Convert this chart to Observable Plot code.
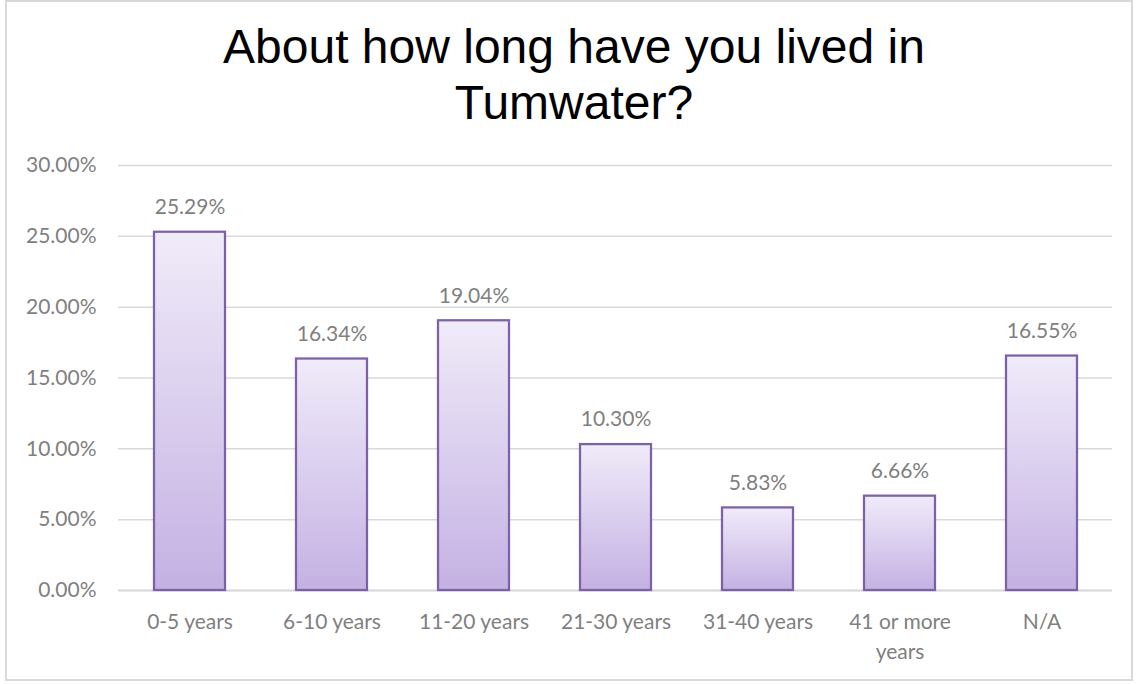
<!DOCTYPE html>
<html>
<head>
<meta charset="utf-8">
<script src="https://cdn.jsdelivr.net/npm/d3@7"></script>
<script src="https://cdn.jsdelivr.net/npm/@observablehq/plot@0.6"></script>
<style>
  html, body { margin: 0; padding: 0; background: #fff; overflow: hidden; }
  #wrap { position: relative; width: 1140px; height: 684px; }
  #frame { position: absolute; left: 5px; top: 0px; width: 1128px; height: 681px; box-sizing: border-box; border: 2px solid #d9d9d9; }
  #title { position: absolute; left: 8px; top: 19px; width: 1132px; text-align: center;
           font-family: "Liberation Sans", Arial, sans-serif; font-size: 48px; line-height: 56px; color: #000; }
  #chart { position: absolute; left: 0; top: 140px; }
</style>
</head>
<body>
<div id="wrap">
  <div id="frame"></div>
  <div id="title">About how long have you lived in<br>Tumwater?</div>
  <div id="chart"></div>
</div>
<script>
const categories = ["0-5 years", "6-10 years", "11-20 years", "21-30 years", "31-40 years", "41 or more years", "N/A"];
const values = [25.29, 16.34, 19.04, 10.30, 5.83, 6.66, 16.55];
const yTicks = [0, 5, 10, 15, 20, 25, 30];
const tickLabels = {"41 or more years": "41 or more\nyears"};

const data = categories.map((c, i) => ({cat: c, value: values[i]}));
const textColor = "#7f7f7f";
const font = "Lato, 'Open Sans', sans-serif";

const chart = Plot.plot({
  width: 1140,
  height: 544,
  marginLeft: 118,
  marginRight: 28,
  marginTop: 25,
  marginBottom: 94,
  style: {fontFamily: font, fontSize: "21px", color: textColor, background: "transparent", overflow: "visible"},
  x: {domain: categories, paddingInner: 0.5, paddingOuter: 0.25, label: null},
  y: {domain: [0, 30], label: null},
  marks: [
    Plot.gridY(yTicks, {stroke: "#d9d9d9", strokeOpacity: 1, strokeWidth: 1.5}),
    Plot.ruleY([0], {stroke: "#d9d9d9", strokeWidth: 2}),
    Plot.barY(data, {x: "cat", y: "value", fill: "url(#barGrad)", stroke: "#7c61a7", strokeWidth: 2.25}),
    Plot.text(data, {x: "cat", y: "value", text: d => d.value.toFixed(2) + "%", dy: -25, fill: textColor, fontSize: 21}),
    Plot.axisY(yTicks, {tickSize: 0, tickPadding: 22, tickFormat: d => d.toFixed(2) + "%", fontSize: 21, fill: textColor, label: null}),
    Plot.axisX({tickSize: 0, tickPadding: 18, tickFormat: d => tickLabels[d] || d, lineHeight: 1.4, fontSize: 21, fill: textColor, label: null})
  ]
});

const ns = "http://www.w3.org/2000/svg";
const defs = document.createElementNS(ns, "defs");
const grad = document.createElementNS(ns, "linearGradient");
grad.setAttribute("id", "barGrad");
grad.setAttribute("x1", "0"); grad.setAttribute("y1", "0");
grad.setAttribute("x2", "0"); grad.setAttribute("y2", "1");
[["0", "#f0ebf9"], ["1", "#c4b1e3"]].forEach(([o, c]) => {
  const s = document.createElementNS(ns, "stop");
  s.setAttribute("offset", o);
  s.setAttribute("stop-color", c);
  grad.appendChild(s);
});
defs.appendChild(grad);
chart.insertBefore(defs, chart.firstChild);

document.getElementById("chart").appendChild(chart);
</script>
</body>
</html>
